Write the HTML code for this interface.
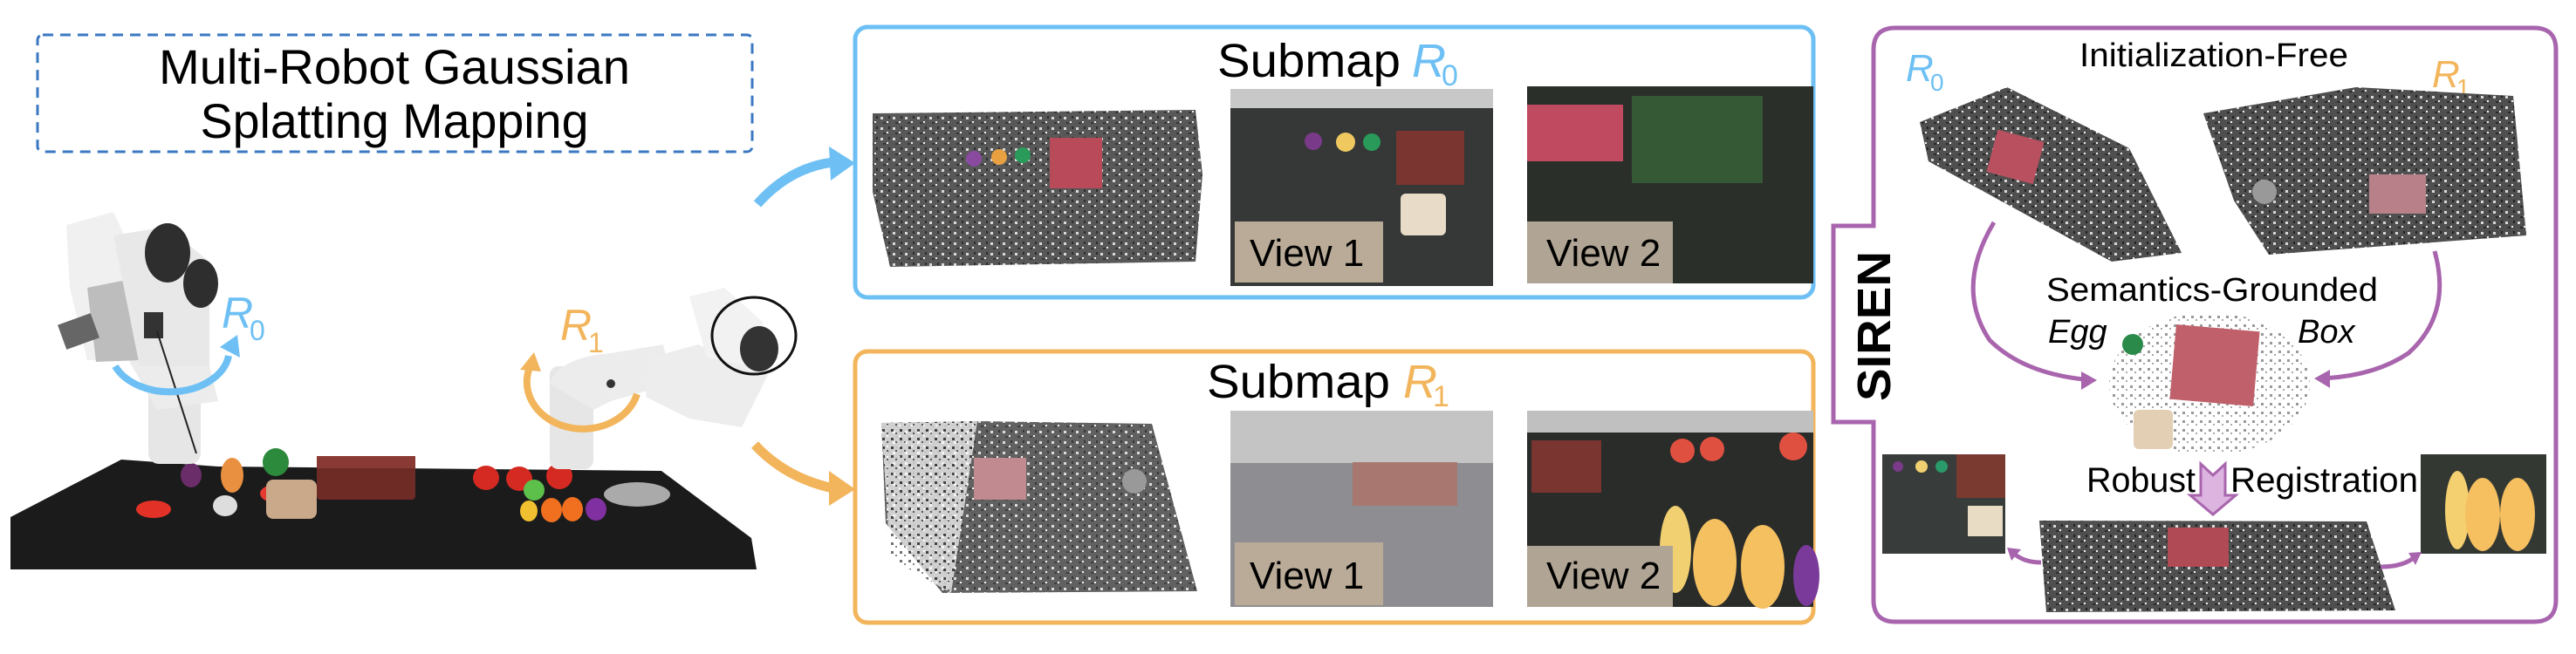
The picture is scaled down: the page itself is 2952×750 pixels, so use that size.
<!DOCTYPE html>
<html><head><meta charset="utf-8"><style>
html,body{margin:0;padding:0;background:#fff;}
svg{display:block;}
text{font-family:"Liberation Sans",Arial,sans-serif;}
</style></head><body>
<svg width="2952" height="750" viewBox="0 0 2952 750" xmlns="http://www.w3.org/2000/svg">
<defs>
<pattern id="spk" width="14" height="12" patternUnits="userSpaceOnUse">
<rect width="14" height="12" fill="#4e4f4e"/>
<rect x="1" y="2" width="3" height="3" fill="#d8d8d8"/>
<rect x="8" y="7" width="2" height="2" fill="#eee"/>
<rect x="10" y="1" width="2" height="3" fill="#222"/>
<rect x="4" y="8" width="3" height="2" fill="#2a2a2a"/>
</pattern>
<pattern id="spkL" width="10" height="10" patternUnits="userSpaceOnUse">
<rect width="10" height="10" fill="#fff"/>
<rect x="1" y="2" width="3" height="3" fill="#333"/>
<rect x="6" y="6" width="2" height="2" fill="#555"/>
</pattern>
<marker id="ab" markerWidth="10" markerHeight="10" refX="6" refY="5" orient="auto" markerUnits="userSpaceOnUse"></marker>
</defs>

<!-- dashed title box -->
<rect x="43" y="40" width="819" height="134" rx="6" fill="none" stroke="#3a78c2" stroke-width="3" stroke-dasharray="12,8"/>
<text x="452" y="96" font-size="56" text-anchor="middle" textLength="540" lengthAdjust="spacingAndGlyphs">Multi-Robot Gaussian</text>
<text x="452" y="158" font-size="56" text-anchor="middle" textLength="445" lengthAdjust="spacingAndGlyphs">Splatting Mapping</text>

<!-- table -->
<polygon points="12,593 139,527 250,535 758,540 861,617 867,653 12,653" fill="#1b1b1b"/>
<!-- objects on table -->
<rect x="363" y="523" width="113" height="50" rx="4" fill="#6e2a25"/>
<rect x="363" y="523" width="113" height="14" fill="#8a3a35"/>
<ellipse cx="318" cy="566" rx="20" ry="11" fill="#e43a30"/>
<ellipse cx="219" cy="545" rx="12" ry="14" fill="#6a2d6a"/>
<ellipse cx="266" cy="545" rx="13" ry="20" fill="#e89040"/>
<ellipse cx="316" cy="530" rx="15" ry="16" fill="#2c8a3c"/>
<rect x="305" y="550" width="58" height="45" rx="8" fill="#c9a98a"/>
<ellipse cx="258" cy="580" rx="14" ry="12" fill="#ddd"/>
<ellipse cx="176" cy="584" rx="20" ry="10" fill="#e23228"/>
<ellipse cx="557" cy="548" rx="15" ry="14" fill="#d42a22"/>
<ellipse cx="595" cy="549" rx="15" ry="14" fill="#d42a22"/>
<ellipse cx="641" cy="546" rx="15" ry="15" fill="#d42a22"/>
<ellipse cx="612" cy="562" rx="12" ry="12" fill="#5cc04a"/>
<ellipse cx="606" cy="586" rx="10" ry="12" fill="#f0c030"/>
<ellipse cx="632" cy="585" rx="12" ry="14" fill="#f07020"/>
<ellipse cx="656" cy="584" rx="12" ry="14" fill="#f07020"/>
<ellipse cx="683" cy="584" rx="12" ry="13" fill="#8030a0"/>
<ellipse cx="730" cy="567" rx="38" ry="14" fill="#aaa"/>

<!-- robot R0 -->
<rect x="170" y="417" width="60" height="115" rx="12" fill="#e6e6e6"/>
<polygon points="140,400 230,380 250,460 180,470" fill="#ececec"/>
<polygon points="76,258 130,243 152,290 160,413 100,413 80,330" fill="#f0f0f0"/>
<polygon points="100,330 150,320 160,413 110,415" fill="#bdbdbd"/>
<polygon points="130,270 190,260 240,300 240,420 160,420" fill="#e8e8e8"/>
<ellipse cx="192" cy="290" rx="26" ry="34" fill="#2e2e2e"/>
<ellipse cx="230" cy="325" rx="20" ry="28" fill="#2e2e2e"/>
<rect x="70" y="365" width="40" height="30" fill="#666" transform="rotate(-20 90 380)"/>
<rect x="165" y="358" width="22" height="30" fill="#333"/>
<line x1="180" y1="380" x2="225" y2="520" stroke="#222" stroke-width="2"/>

<!-- robot R1 -->
<rect x="630" y="420" width="50" height="118" rx="10" fill="#e6e6e6"/>
<path d="M630,440 Q640,410 700,405 L760,395 L770,440 L700,460 L680,470 Z" fill="#ececec"/>
<polygon points="745,410 800,395 880,430 850,490 790,480 740,455" fill="#ededed"/>
<polygon points="790,340 830,330 875,370 860,420 810,410" fill="#f2f2f2"/>
<ellipse cx="864" cy="385" rx="48" ry="44" fill="none" stroke="#111" stroke-width="3"/>
<ellipse cx="870" cy="400" rx="22" ry="26" fill="#333"/>
<circle cx="700" cy="440" r="5" fill="#333"/>

<!-- rotation arcs -->
<path d="M132,420 A68,48 0 0 0 262,408" fill="none" stroke="#6ec0f4" stroke-width="8"/>
<polygon points="252,398 272,384 275,410" fill="#6ec0f4"/>
<text x="254" y="376" font-size="50" font-style="italic" fill="#6ec0f4" font-family="Liberation Serif,serif">R</text>
<text x="286" y="390" font-size="32" fill="#6ec0f4">0</text>
<path d="M730,452 A62,52 0 0 1 606,424" fill="none" stroke="#f2b55c" stroke-width="8"/>
<polygon points="596,424 612,404 620,426" fill="#f2b55c"/>
<text x="642" y="390" font-size="50" font-style="italic" fill="#f2b55c" font-family="Liberation Serif,serif">R</text>
<text x="674" y="404" font-size="32" fill="#f2b55c">1</text>

<!-- arrows to submaps -->
<path d="M868,234 Q905,192 955,186" fill="none" stroke="#6ec0f4" stroke-width="11"/>
<polygon points="950,168 980,187 952,207" fill="#6ec0f4"/>
<path d="M865,510 Q900,548 955,560" fill="none" stroke="#f2b55c" stroke-width="11"/>
<polygon points="950,540 980,561 950,580" fill="#f2b55c"/>

<!-- Submap R0 box -->
<rect x="980" y="31" width="1098" height="310" rx="14" fill="none" stroke="#6ec0f4" stroke-width="5"/>
<text x="1395" y="88" font-size="54" textLength="210" lengthAdjust="spacingAndGlyphs">Submap</text>
<text x="1618" y="88" font-size="54" font-style="italic" fill="#6ec0f4" font-family="Liberation Serif,serif">R</text>
<text x="1652" y="98" font-size="34" fill="#6ec0f4">0</text>
<polygon points="1000,130 1370,126 1378,200 1370,300 1020,306 1000,220" fill="url(#spk)" opacity="0.95"/>
<rect x="1203" y="158" width="60" height="58" fill="#b84a5a"/>
<circle cx="1116" cy="182" r="9" fill="#8a4aa0"/><circle cx="1145" cy="180" r="9" fill="#e8a040"/><circle cx="1172" cy="178" r="9" fill="#2a9a5a"/>
<rect x="1410" y="102" width="301" height="226" fill="#353836"/>
<rect x="1410" y="102" width="301" height="22" fill="#c8c8c8"/>
<rect x="1600" y="150" width="78" height="62" fill="#7a3530"/>
<circle cx="1505" cy="162" r="10" fill="#7a3a8a"/><circle cx="1542" cy="163" r="11" fill="#f0c860"/><circle cx="1572" cy="163" r="10" fill="#2a9a5a"/>
<rect x="1605" y="222" width="52" height="48" rx="6" fill="#e8dcc8"/>
<rect x="1750" y="99" width="328" height="226" fill="#2a2f2a"/>
<rect x="1750" y="120" width="110" height="65" fill="#c04a60"/>
<rect x="1870" y="110" width="150" height="100" fill="#3a6a3a" opacity="0.7"/>
<rect x="1415" y="254" width="170" height="70" fill="#b9ab98"/>
<text x="1432" y="305" font-size="44">View 1</text>
<rect x="1750" y="254" width="167" height="71" fill="#b0a594"/>
<text x="1772" y="305" font-size="44">View 2</text>

<!-- Submap R1 box -->
<rect x="980" y="403" width="1098" height="311" rx="14" fill="none" stroke="#f2b55c" stroke-width="5"/>
<text x="1383" y="456" font-size="54" textLength="210" lengthAdjust="spacingAndGlyphs">Submap</text>
<text x="1608" y="456" font-size="54" font-style="italic" fill="#f2b55c" font-family="Liberation Serif,serif">R</text>
<text x="1642" y="466" font-size="34" fill="#f2b55c">1</text>
<polygon points="1010,485 1120,483 1320,486 1372,678 1080,680 1015,600" fill="url(#spk)" opacity="0.9"/>
<polygon points="1010,485 1120,483 1090,680 1020,640" fill="url(#spkL)" opacity="0.7"/>
<rect x="1116" y="525" width="60" height="48" fill="#c08a90"/>
<circle cx="1300" cy="552" r="14" fill="#999"/>
<rect x="1410" y="471" width="301" height="225" fill="#8e8e92"/>
<rect x="1410" y="471" width="301" height="60" fill="#c4c4c4"/>
<rect x="1550" y="530" width="120" height="50" fill="#a87870"/>
<rect x="1750" y="471" width="328" height="225" fill="#2a2c2a"/>
<rect x="1750" y="471" width="328" height="25" fill="#c0c0c0"/>
<rect x="1755" y="505" width="80" height="60" fill="#7a3530"/>
<circle cx="1928" cy="517" r="14" fill="#e05040"/><circle cx="1962" cy="515" r="14" fill="#e05040"/><circle cx="2055" cy="512" r="16" fill="#e05040"/>
<ellipse cx="1920" cy="630" rx="18" ry="50" fill="#f0d070"/>
<ellipse cx="1965" cy="645" rx="25" ry="50" fill="#f4c060"/>
<ellipse cx="2020" cy="650" rx="25" ry="48" fill="#f4c060"/>
<ellipse cx="2070" cy="660" rx="15" ry="35" fill="#7a3a9a"/>
<rect x="1415" y="622" width="170" height="72" fill="#b9ab98"/>
<text x="1432" y="675" font-size="44">View 1</text>
<rect x="1750" y="626" width="167" height="70" fill="#b0a594"/>
<text x="1772" y="675" font-size="44">View 2</text>

<!-- SIREN box -->
<path d="M2172,32 L2904,32 Q2929,32 2929,57 L2929,688 Q2929,713 2904,713 L2172,713 Q2147,713 2147,688 L2147,484 L2101,484 L2101,259 L2147,259 L2147,57 Q2147,32 2172,32 Z" fill="none" stroke="#a865ae" stroke-width="5"/>
<text transform="translate(2166,460) rotate(-90)" font-size="54" font-weight="bold" textLength="172" lengthAdjust="spacingAndGlyphs">SIREN</text>
<text x="2383" y="76" font-size="38" textLength="308" lengthAdjust="spacingAndGlyphs">Initialization-Free</text>
<text x="2184" y="93" font-size="44" font-style="italic" fill="#6ec0f4" font-family="Liberation Serif,serif">R</text>
<text x="2212" y="104" font-size="28" fill="#6ec0f4">0</text>
<text x="2787" y="100" font-size="44" font-style="italic" fill="#f2b55c" font-family="Liberation Serif,serif">R</text>
<text x="2815" y="110" font-size="28" fill="#f2b55c">1</text>
<polygon points="2200,140 2300,100 2440,170 2500,290 2420,300 2210,185" fill="url(#spk)"/>
<rect x="2282" y="155" width="55" height="50" fill="#b85060" transform="rotate(15 2310 180)"/>
<polygon points="2525,130 2700,100 2880,110 2895,270 2600,292 2560,230" fill="url(#spk)"/>
<rect x="2715" y="200" width="65" height="45" fill="#b88088"/>
<circle cx="2595" cy="220" r="14" fill="#999"/>
<path d="M2285,255 Q2240,330 2280,390 Q2320,430 2398,436" fill="none" stroke="#a865ae" stroke-width="5"/>
<polygon points="2403,436 2385,426 2385,447" fill="#a865ae"/>
<path d="M2790,288 Q2810,360 2760,405 Q2720,432 2658,434" fill="none" stroke="#a865ae" stroke-width="5"/>
<polygon points="2652,434 2670,424 2670,445" fill="#a865ae"/>
<text x="2345" y="345" font-size="38" textLength="380" lengthAdjust="spacingAndGlyphs">Semantics-Grounded</text>
<text x="2347" y="393" font-size="38" font-style="italic">Egg</text>
<text x="2633" y="393" font-size="38" font-style="italic">Box</text>
<ellipse cx="2532" cy="440" rx="115" ry="82" fill="url(#spkL)" opacity="0.5"/>
<rect x="2490" y="376" width="96" height="86" fill="#c0606a" transform="rotate(5 2538 419)"/>
<circle cx="2444" cy="395" r="12" fill="#2a8a4a"/>
<rect x="2445" y="470" width="45" height="45" rx="6" fill="#e2cfb4"/>
<text x="2391" y="564" font-size="40" textLength="125" lengthAdjust="spacingAndGlyphs">Robust</text>
<text x="2556" y="564" font-size="40" textLength="215" lengthAdjust="spacingAndGlyphs">Registration</text>
<polygon points="2522,532 2536,545 2550,532 2550,568 2562,568 2536,590 2510,568 2522,568" fill="#dcb4df" stroke="#a865ae" stroke-width="3"/>
<polygon points="2337,597 2712,598 2745,700 2345,702" fill="url(#spk)"/>
<rect x="2484" y="605" width="70" height="45" fill="#b04a55"/>
<rect x="2157" y="521" width="141" height="114" fill="#383c3a"/>
<rect x="2242" y="521" width="56" height="50" fill="#7a3a30"/>
<circle cx="2175" cy="535" r="6" fill="#7a3a8a"/><circle cx="2202" cy="535" r="7" fill="#f0d070"/><circle cx="2225" cy="535" r="7" fill="#2a9a6a"/>
<rect x="2255" y="580" width="40" height="35" fill="#e8dcc4"/>
<rect x="2774" y="521" width="144" height="114" fill="#333833"/>
<ellipse cx="2816" cy="585" rx="14" ry="45" fill="#f4d070"/>
<ellipse cx="2845" cy="590" rx="20" ry="42" fill="#f6c060"/>
<ellipse cx="2885" cy="590" rx="20" ry="42" fill="#f6c060"/>
<path d="M2339,645 Q2318,645 2306,633" fill="none" stroke="#a865ae" stroke-width="5"/>
<polygon points="2300,628 2316,630 2305,643" fill="#a865ae"/>
<path d="M2728,650 Q2755,650 2768,638" fill="none" stroke="#a865ae" stroke-width="5"/>
<polygon points="2775,633 2760,634 2768,648" fill="#a865ae"/>
</svg>
</body></html>
